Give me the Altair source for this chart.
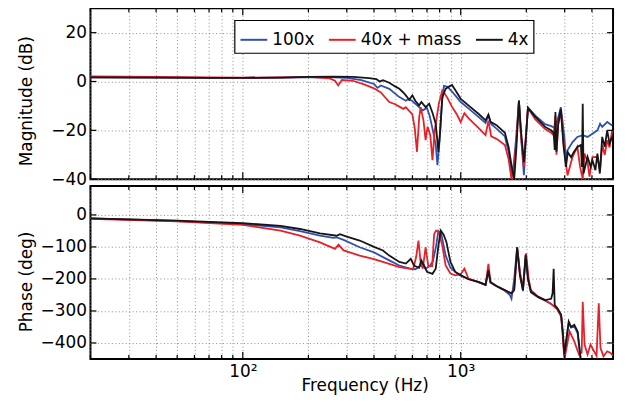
import altair as alt
import pandas as pd

series_names = ["100x", "40x + mass", "4x"]
series_colors = ["#3050b0", "#e62129", "#161616"]

# ---------------- Magnitude (dB) ----------------
mag_freq_100x = [20, 40, 70, 100, 150, 200, 260, 300, 350, 400, 415, 430, 470, 523, 560, 575, 600, 644, 670, 700,
                 720, 745, 768, 782, 800, 820, 837, 870, 910, 960, 1000, 1085, 1206, 1300, 1340, 1380, 1460, 1595,
                 1660, 1710, 1750, 1800, 1850, 1890, 1950, 1995, 2035, 2200, 2440, 2600, 2700, 2780, 2880, 2990,
                 3040, 3090, 3260, 3430, 3630, 3820, 4020, 4240, 4360, 4460, 4700, 4950]
mag_db_100x = [1.7, 1.6, 1.5, 1.5, 1.6, 1.7, 1.7, 1.5, 0.6, -1.0, -2.6, -1.6, -3.0, -6.4, -7.9, -7.2, -8.0, -10.5,
               -11.8, -10.8, -14.0, -20.0, -26.0, -34.3, -24.0, -9.0, -1.8, -2.2, -4.0, -6.5, -8.4, -11.0, -14.5,
               -17.0, -13.8, -17.5, -19.3, -22.5, -29.0, -38.5, -34.0, -22.0, -7.8, -22.0, -38.4, -22.0, -10.6,
               -14.0, -17.5, -18.3, -19.0, -15.9, -10.5, -22.7, -32.2, -28.2, -24.8, -22.7, -22.0, -22.7, -21.4,
               -20.0, -17.3, -18.6, -16.6, -18.0]

mag_freq_40x = [20, 40, 70, 100, 150, 200, 250, 265, 274, 285, 320, 360, 400, 430, 470, 500, 523, 545, 560, 580, 600,
                615, 630, 645, 655, 675, 690, 705, 725, 742, 760, 794, 823, 845, 870, 910, 960, 1000, 1040, 1085,
                1206, 1300, 1340, 1380, 1460, 1595, 1660, 1710, 1760, 1800, 1850, 1890, 1950, 1995, 2035, 2200,
                2440, 2600, 2670, 2720, 2750, 2800, 2880, 2990, 3090, 3260, 3430, 3530, 3630, 3700, 3820, 3900,
                4020, 4240, 4360, 4460, 4580, 4700, 4820, 4950]
mag_db_40x = [2.1, 1.9, 1.7, 1.6, 1.7, 1.9, 1.3, 0.3, -1.6, 0.6, 0.3, -1.2, -2.8, -4.5, -8.4, -9.3, -10.3, -11.2,
              -10.5, -12.0, -13.5, -19.0, -28.8, -14.6, -10.5, -16.0, -24.0, -18.5, -22.0, -32.2, -20.0, -9.0, -3.7,
              -5.0, -6.8, -10.2, -13.5, -16.6, -13.0, -15.0, -19.0, -22.0, -16.0, -22.5, -23.5, -26.0, -32.0, -40.0,
              -35.0, -24.0, -8.0, -22.0, -35.0, -21.0, -10.9, -15.5, -19.5, -21.0, -22.0, -14.0, -30.0, -18.0,
              -12.0, -28.0, -38.5, -30.9, -26.8, -35.0, -40.0, -29.5, -33.0, -39.0, -31.0, -30.9, -36.3, -26.0,
              -30.0, -24.1, -27.0, -20.0]

mag_freq_4x = [20, 40, 70, 100, 150, 200, 260, 320, 380, 410, 424, 440, 470, 500, 523, 545, 560, 580, 600, 620, 644,
               660, 690, 717, 742, 768, 790, 805, 823, 853, 880, 912, 944, 1000, 1085, 1206, 1300, 1340, 1370, 1460,
               1595, 1660, 1710, 1760, 1800, 1850, 1890, 1950, 1995, 2035, 2200, 2440, 2600, 2670, 2700, 2720,
               2750, 2800, 2880, 2960, 3040, 3100, 3210, 3300, 3430, 3560, 3600, 3630, 3660, 3820, 3950, 4020,
               4150, 4240, 4350, 4460, 4580, 4700, 4820, 4950]
mag_db_4x = [1.7, 1.6, 1.5, 1.5, 1.6, 1.9, 2.0, 1.9, 1.4, 1.0, 0.0, 0.5, -0.5, -2.0, -3.0, -4.5, -5.7, -7.5, -5.7,
             -8.0, -9.8, -8.4, -10.5, -9.1, -12.8, -17.3, -28.8, -20.0, -6.4, -3.0, -2.2, -1.4, -3.5, -7.1, -9.8,
             -13.2, -15.9, -13.6, -16.5, -17.9, -21.0, -27.0, -34.3, -40.0, -27.5, -7.8, -20.0, -33.0, -22.0, -10.9,
             -14.5, -18.6, -20.0, -21.0, -28.0, -12.5, -28.8, -17.3, -11.2, -26.0, -35.0, -29.0, -31.0, -29.0,
             -26.8, -26.0, -35.0, -9.1, -37.7, -30.9, -35.0, -32.2, -36.3, -29.5, -37.7, -22.7, -26.8, -20.0,
             -25.4, -22.7]

# ---------------- Phase (deg) ----------------
ph_freq_100x = [20, 50, 100, 149, 183, 226, 260, 270, 290, 344, 400, 470, 523, 580, 620, 650, 670, 690, 720, 745,
                770, 790, 815, 853, 897, 944, 1000, 1085, 1206, 1300, 1340, 1370, 1460, 1595, 1680, 1710, 1760,
                1815, 1870, 1930, 1990, 2035, 2100, 2270, 2440, 2600, 2780, 2890, 2940, 2990, 3040, 3130, 3210,
                3320, 3440, 3560]
ph_deg_100x = [-11, -19, -29, -39, -51, -65, -72, -70, -78, -101, -117, -142, -158, -167, -170, -160, -150, -168,
               -160, -145, -100, -50, -60, -127, -165, -178, -190, -200, -210, -219, -178, -212, -223, -237, -250,
               -262, -200, -101, -180, -238, -125, -200, -242, -258, -268, -278, -295, -318, -370, -440, -400,
               -338, -352, -348, -370, -460]

ph_freq_40x = [20, 50, 100, 149, 183, 226, 265, 275, 290, 344, 400, 470, 523, 580, 605, 625, 640, 655, 670, 690, 710,
               740, 755, 770, 794, 823, 853, 897, 944, 1000, 1040, 1085, 1206, 1300, 1340, 1370, 1460, 1595, 1710,
               1760, 1820, 1870, 1930, 1995, 2050, 2100, 2270, 2440, 2600, 2780, 2890, 2940, 2990, 3050, 3160,
               3320, 3490, 3590, 3630, 3700, 3820, 3940, 4090, 4200, 4300, 4380, 4520, 4700, 4870, 4990]
ph_deg_40x = [-12, -20, -31, -49, -65, -86, -106, -93, -111, -127, -138, -153, -163, -168, -170, -130, -80, -150,
              -168, -101, -160, -160, -60, -49, -54, -96, -158, -183, -189, -185, -168, -199, -210, -219, -153,
              -210, -222, -236, -246, -230, -106, -180, -230, -120, -200, -235, -256, -266, -278, -296, -315,
              -380, -452, -420, -364, -395, -436, -430, -271, -405, -436, -405, -426, -440, -276, -416, -442,
              -426, -431, -440]

ph_freq_4x = [20, 50, 100, 149, 183, 226, 270, 279, 300, 344, 400, 440, 470, 523, 560, 590, 610, 644, 660, 680, 700,
              742, 768, 790, 810, 835, 860, 897, 944, 1000, 1085, 1206, 1300, 1340, 1370, 1460, 1595, 1710, 1760,
              1815, 1870, 1930, 1985, 2035, 2100, 2270, 2440, 2600, 2640, 2670, 2700, 2780, 2890, 2940, 2990,
              3040, 3130, 3210, 3320, 3440, 3560]
ph_deg_4x = [-11, -18, -26, -34, -44, -58, -65, -60, -68, -80, -100, -111, -127, -147, -152, -137, -158, -165, -142,
             -160, -178, -184, -168, -96, -49, -62, -85, -147, -178, -188, -201, -209, -218, -173, -210, -222, -235,
             -245, -235, -101, -190, -235, -125, -200, -240, -256, -266, -262, -245, -168, -282, -292, -312, -364,
             -436, -400, -333, -350, -343, -364, -455]

mag_ticks = [-40, -20, 0, 20]
phase_ticks = [-400, -300, -200, -100, 0]
major_freq = [100, 1000]
minor_freq = [20, 30, 40, 50, 60, 70, 80, 90, 200, 300, 400, 500, 600, 700, 800, 900, 2000, 3000, 4000]

FONT = "DejaVu Sans"
W, H1, H2 = 526, 172, 174


def frame(f, v, name):
    return pd.DataFrame({"f": f, "v": v, "series": name})


mag_frames = [frame(mag_freq_100x, mag_db_100x, series_names[0]),
              frame(mag_freq_40x, mag_db_40x, series_names[1]),
              frame(mag_freq_4x, mag_db_4x, series_names[2])]
ph_frames = [frame(ph_freq_100x, ph_deg_100x, series_names[0]),
             frame(ph_freq_40x, ph_deg_40x, series_names[1]),
             frame(ph_freq_4x, ph_deg_4x, series_names[2])]

x_scale = alt.Scale(type="log", domain=[20, 5000], nice=False)
color_scale = alt.Scale(domain=series_names, range=series_colors)
grid_vals = sorted(major_freq + minor_freq)


def build_panel(frames, ydomain, yticks, ytitle, height, title_y, bottom, legend):
    y_scale = alt.Scale(domain=ydomain, nice=False, zero=False)
    y_axis = alt.Axis(values=yticks, ticks=False, tickSize=0, domain=False, grid=True,
                      gridDash=[1, 2.5], gridColor="#8c8c8c", gridWidth=1,
                      labelFontSize=17, labelPadding=4, labelColor="black", labelFont=FONT,
                      title=ytitle, titleFontSize=17, titleFontWeight="normal", titleColor="black",
                      titleFont=FONT, titleX=-55, titleY=title_y)
    if bottom:
        x_axis = alt.Axis(values=grid_vals, ticks=False, tickSize=0, domain=False, grid=True,
                          gridDash=[1, 2.5], gridColor="#8c8c8c", gridWidth=1,
                          labelExpr="datum.value == 100 ? '10²' : (datum.value == 1000 ? '10³' : '')",
                          labelOverlap=False, labelFontSize=17, labelPadding=5, labelColor="black",
                          labelFont=FONT,
                          title="Frequency (Hz)", titleFontSize=17, titleFontWeight="normal",
                          titleColor="black", titleFont=FONT, titleX=276, titleY=32,
                          titleBaseline="alphabetic")
    else:
        x_axis = alt.Axis(values=grid_vals, ticks=False, tickSize=0, domain=False, grid=True,
                          gridDash=[1, 2.5], gridColor="#8c8c8c", gridWidth=1,
                          labels=False, labelPadding=0, title=None, minExtent=0, maxExtent=0)
    X = alt.X("f:Q", scale=x_scale, axis=x_axis)
    Y = alt.Y("v:Q", scale=y_scale, axis=y_axis)

    layers = []
    for df in frames:
        layers.append(
            alt.Chart(df).mark_line(strokeWidth=1.8, clip=True).encode(
                x=X, y=Y,
                color=alt.Color("series:N", scale=color_scale, legend=legend),
            )
        )
    ydf = pd.DataFrame({"v": yticks})
    layers.append(alt.Chart(ydf).mark_rule(color="black", strokeWidth=1.2).encode(
        y=Y, x=alt.value(0), x2=alt.value(6)))
    layers.append(alt.Chart(ydf).mark_rule(color="black", strokeWidth=1.2).encode(
        y=Y, x=alt.value(W - 6), x2=alt.value(W)))
    majdf = pd.DataFrame({"f": major_freq})
    mindf = pd.DataFrame({"f": minor_freq})
    for d, ln in ((majdf, 7), (mindf, 4)):
        layers.append(alt.Chart(d).mark_rule(color="black", strokeWidth=1.2).encode(
            x=X, y=alt.value(0), y2=alt.value(ln)))
        layers.append(alt.Chart(d).mark_rule(color="black", strokeWidth=1.2).encode(
            x=X, y=alt.value(height - ln), y2=alt.value(height)))
    return alt.layer(*layers).properties(width=W, height=height)


legend = alt.Legend(orient="none", legendX=145, legendY=12, direction="horizontal", title=None,
                    symbolType="stroke", symbolSize=729, symbolStrokeWidth=2,
                    labelFontSize=17, labelFont=FONT, labelColor="black", labelOffset=4,
                    padding=5, columnPadding=10, strokeColor="black", fillColor="white",
                    cornerRadius=0)

top = build_panel(mag_frames, [-40, 30], mag_ticks, "Magnitude (dB)", H1, 93, False, legend)
bottom = build_panel(ph_frames, [-450, 90], phase_ticks, "Phase (deg)", H2, 96, True, None)

chart = alt.vconcat(top, bottom, spacing=7, bounds="flush").resolve_scale(color="independent").properties(
    padding={"left": 8, "top": -3, "right": 4, "bottom": 0}, background="white"
).configure_view(stroke="black", strokeWidth=2).configure_legend(strokeWidth=1.2)

chart.save("out.html", embed_options={"renderer": "svg", "actions": False})
